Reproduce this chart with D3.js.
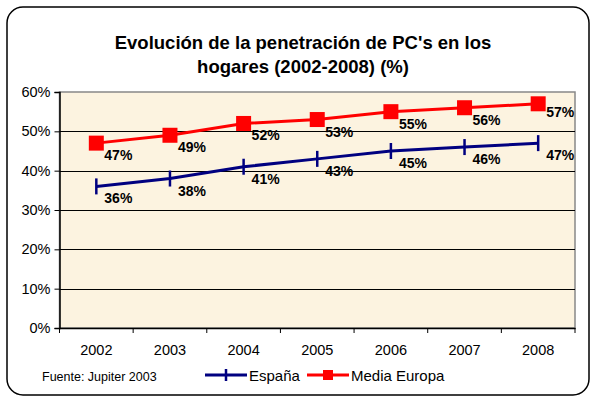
<!DOCTYPE html>
<html>
<head>
<meta charset="utf-8">
<script src="https://cdn.jsdelivr.net/npm/d3@7"></script>
<style>
  body { margin: 0; background: #fff; }
  svg { font-family: Arial, "Liberation Sans", sans-serif; }
</style>
</head>
<body>
<div id="graphic"></div>
<script>
var years = ["2002", "2003", "2004", "2005", "2006", "2007", "2008"];
var espana = [36, 38, 41, 43, 45, 46, 47];
var europa = [47, 49, 52, 53, 55, 56, 57];
var yTicks = [0, 10, 20, 30, 40, 50, 60];

var width = 594, height = 400;
var margin = {left: 59.5, right: 19, top: 92, bottom: 72};

var svg = d3.select("#graphic").append("svg").attr("width", width).attr("height", height);

svg.append("rect").attr("x", 7).attr("y", 7).attr("width", 582).attr("height", 388)
  .attr("rx", 16).attr("fill", "#fff").attr("stroke", "#000").attr("stroke-width", 1.5);

// title
svg.append("text").attr("x", 303).attr("y", 49).attr("text-anchor", "middle")
  .attr("font-size", 18.5).attr("font-weight", "bold").text("Evolución de la penetración de PC's en los");
svg.append("text").attr("x", 303).attr("y", 73).attr("text-anchor", "middle")
  .attr("font-size", 18.5).attr("font-weight", "bold").text("hogares (2002-2008) (%)");

var x = d3.scaleBand().domain(years).range([margin.left, width - margin.right]);
var y = d3.scaleLinear().domain([0, 60]).range([height - margin.bottom, margin.top]);

svg.append("rect").attr("x", x.range()[0]).attr("y", y(60))
  .attr("width", x.range()[1] - x.range()[0]).attr("height", y(0) - y(60))
  .attr("fill", "#fcf3e0").attr("stroke", "#888").attr("stroke-width", 1.5);

svg.selectAll(".grid").data(yTicks.filter(function(d) { return d > 0 && d < 60; }))
  .enter().append("line")
  .attr("x1", x.range()[0]).attr("x2", x.range()[1])
  .attr("y1", function(d) { return Math.round(y(d)) + 0.5; })
  .attr("y2", function(d) { return Math.round(y(d)) + 0.5; })
  .attr("stroke", "#000").attr("stroke-width", 1);

var yAxis = svg.append("g").attr("transform", "translate(" + x.range()[0] + ",0)")
  .call(d3.axisLeft(y).tickValues(yTicks).tickSize(5).tickPadding(4)
    .tickFormat(function(d) { return d + "%"; }));
var xAxis = svg.append("g").attr("transform", "translate(0," + y(0) + ")")
  .call(d3.axisBottom(x).tickSize(0).tickPadding(17));
xAxis.selectAll(".tick").append("line").attr("stroke", "#000")
  .attr("x1", -x.bandwidth() / 2).attr("x2", -x.bandwidth() / 2).attr("y2", 5);
xAxis.append("line").attr("stroke", "#000").attr("x1", x.range()[1]).attr("x2", x.range()[1]).attr("y2", 5);
[yAxis, xAxis].forEach(function(a) {
  a.selectAll("text").attr("font-size", 14.5).attr("fill", "#000").attr("font-family", "Arial, 'Liberation Sans', sans-serif");
  a.select(".domain").attr("stroke", "#000").attr("stroke-width", 1.5);
});

var cx = function(d, i) { return x(years[i]) + x.bandwidth() / 2; };
var line = d3.line().x(function(d, i) { return cx(d, i); }).y(function(d) { return y(d); });

svg.append("path").datum(espana).attr("d", line).attr("fill", "none")
  .attr("stroke", "#000080").attr("stroke-width", 3);
svg.selectAll(".tickmark").data(espana).enter().append("line")
  .attr("x1", cx).attr("x2", cx)
  .attr("y1", function(d) { return y(d) - 8; }).attr("y2", function(d) { return y(d) + 8; })
  .attr("stroke", "#000080").attr("stroke-width", 2.5);

svg.append("path").datum(europa).attr("d", line).attr("fill", "none")
  .attr("stroke", "#ff0000").attr("stroke-width", 3);
svg.selectAll(".sq").data(europa).enter().append("rect")
  .attr("x", function(d, i) { return cx(d, i) - 7.5; })
  .attr("y", function(d) { return y(d) - 7.5; })
  .attr("width", 15).attr("height", 15).attr("fill", "#ff0000");

// data labels
[espana, europa].forEach(function(s) {
  svg.selectAll(null).data(s).enter().append("text")
    .attr("x", function(d, i) { return cx(d, i) + 8; })
    .attr("y", function(d, i) { return y(d) + (s === europa && i === 6 ? 13 : 17); })
    .attr("font-size", 14).attr("font-weight", "bold")
    .text(function(d) { return d + "%"; });
});

svg.append("text").attr("x", 42).attr("y", 381).attr("font-size", 12.5).text("Fuente: Jupiter 2003");

var legend = [
  {name: "España", color: "#000080", x: 205},
  {name: "Media Europa", color: "#ff0000", x: 307}
];
legend.forEach(function(l) {
  svg.append("line").attr("x1", l.x).attr("x2", l.x + 42).attr("y1", 375).attr("y2", 375)
    .attr("stroke", l.color).attr("stroke-width", 3);
  if (l.name === "España") {
    svg.append("line").attr("x1", l.x + 21).attr("x2", l.x + 21).attr("y1", 369).attr("y2", 381)
      .attr("stroke", l.color).attr("stroke-width", 2.5);
  } else {
    svg.append("rect").attr("x", l.x + 16).attr("y", 370).attr("width", 10).attr("height", 10).attr("fill", l.color);
  }
  svg.append("text").attr("x", l.x + 44).attr("y", 381).attr("font-size", 15).text(l.name);
});
</script>
</body>
</html>
